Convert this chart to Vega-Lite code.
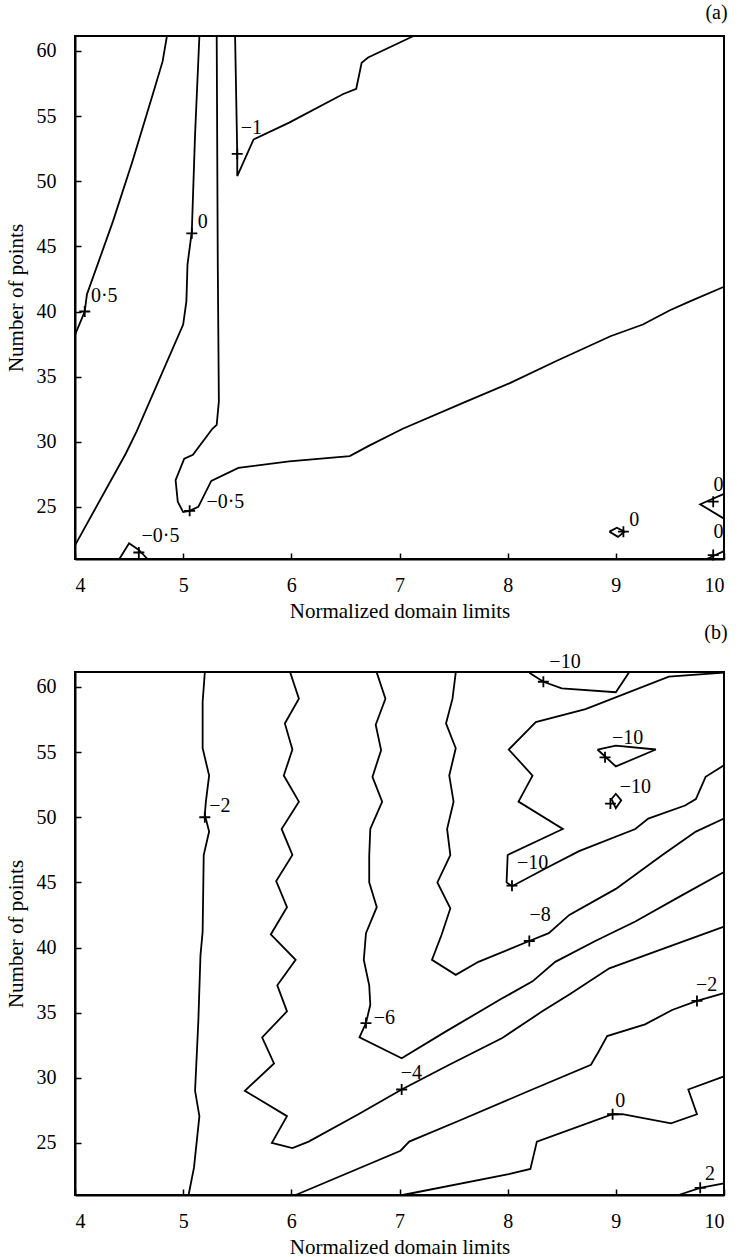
{
  "$schema": "https://vega.github.io/schema/vega-lite/v6.json",
  "background": "white",
  "padding": {"left": 4, "top": 2, "right": 4, "bottom": 2},
  "spacing": 0,
  "config": {
    "font": "Liberation Serif",
    "view": {"stroke": "black", "strokeWidth": 2},
    "axis": {
      "grid": false,
      "domainColor": "black", "domainWidth": 2,
      "tickColor": "black", "tickWidth": 1.5, "tickSize": -6,
      "labelColor": "black", "labelFont": "Liberation Serif", "labelFontSize": 20,
      "titleColor": "black", "titleFont": "Liberation Serif", "titleFontSize": 21, "titleFontWeight": "normal"
    },
    "axisX": {"labelPadding": 22, "titlePadding": 5},
    "axisY": {"labelPadding": 25, "titlePadding": 10},
    "title": {"font": "Liberation Serif", "fontSize": 20, "fontWeight": "normal", "color": "black", "anchor": "end", "offset": 9}
  },
  "datasets": {
    "a_lines": [
      {"c": "a1", "o": 1, "x": 4.85, "y": 61.15}, {"c": "a1", "o": 2, "x": 4.81, "y": 59.2}, {"c": "a1", "o": 3, "x": 4.72, "y": 56.7}, {"c": "a1", "o": 4, "x": 4.53, "y": 51.5}, {"c": "a1", "o": 5, "x": 4.35, "y": 46.9}, {"c": "a1", "o": 6, "x": 4.11, "y": 41.3}, {"c": "a1", "o": 7, "x": 4.09, "y": 40.0}, {"c": "a1", "o": 8, "x": 4.0, "y": 38.2},
      {"c": "a2", "o": 1, "x": 5.15, "y": 61.15}, {"c": "a2", "o": 2, "x": 5.11, "y": 53.6}, {"c": "a2", "o": 3, "x": 5.08, "y": 46.15}, {"c": "a2", "o": 4, "x": 5.04, "y": 43.6}, {"c": "a2", "o": 5, "x": 5.03, "y": 40.8}, {"c": "a2", "o": 6, "x": 5.0, "y": 39.0}, {"c": "a2", "o": 7, "x": 4.57, "y": 30.8}, {"c": "a2", "o": 8, "x": 4.47, "y": 29.1}, {"c": "a2", "o": 9, "x": 4.0, "y": 22.05},
      {"c": "a3", "o": 1, "x": 5.31, "y": 61.15}, {"c": "a3", "o": 2, "x": 5.32, "y": 43.6}, {"c": "a3", "o": 3, "x": 5.33, "y": 33.1}, {"c": "a3", "o": 4, "x": 5.31, "y": 31.3}, {"c": "a3", "o": 5, "x": 5.27, "y": 31.0}, {"c": "a3", "o": 6, "x": 5.09, "y": 29.0}, {"c": "a3", "o": 7, "x": 5.01, "y": 28.7}, {"c": "a3", "o": 8, "x": 4.93, "y": 27.05}, {"c": "a3", "o": 9, "x": 4.95, "y": 25.4}, {"c": "a3", "o": 10, "x": 5.0, "y": 24.6}, {"c": "a3", "o": 11, "x": 5.06, "y": 24.7}, {"c": "a3", "o": 12, "x": 5.14, "y": 25.0}, {"c": "a3", "o": 13, "x": 5.26, "y": 27.0}, {"c": "a3", "o": 14, "x": 5.51, "y": 28.0}, {"c": "a3", "o": 15, "x": 5.98, "y": 28.5}, {"c": "a3", "o": 16, "x": 6.54, "y": 28.9}, {"c": "a3", "o": 17, "x": 6.72, "y": 29.7}, {"c": "a3", "o": 18, "x": 7.03, "y": 31.0}, {"c": "a3", "o": 19, "x": 7.62, "y": 33.1}, {"c": "a3", "o": 20, "x": 8.02, "y": 34.5}, {"c": "a3", "o": 21, "x": 8.45, "y": 36.2}, {"c": "a3", "o": 22, "x": 8.95, "y": 38.1}, {"c": "a3", "o": 23, "x": 9.25, "y": 39.0}, {"c": "a3", "o": 24, "x": 9.5, "y": 40.1}, {"c": "a3", "o": 25, "x": 9.69, "y": 40.8}, {"c": "a3", "o": 26, "x": 10.0, "y": 41.9},
      {"c": "a4", "o": 1, "x": 5.48, "y": 61.15}, {"c": "a4", "o": 2, "x": 5.5, "y": 52.1}, {"c": "a4", "o": 3, "x": 5.5, "y": 50.4}, {"c": "a4", "o": 4, "x": 5.65, "y": 53.2}, {"c": "a4", "o": 5, "x": 5.98, "y": 54.5}, {"c": "a4", "o": 6, "x": 6.48, "y": 56.7}, {"c": "a4", "o": 7, "x": 6.6, "y": 57.1}, {"c": "a4", "o": 8, "x": 6.65, "y": 59.1}, {"c": "a4", "o": 9, "x": 6.71, "y": 59.5}, {"c": "a4", "o": 10, "x": 7.13, "y": 61.15},
      {"c": "a5", "o": 1, "x": 4.41, "y": 21.0}, {"c": "a5", "o": 2, "x": 4.5, "y": 22.2}, {"c": "a5", "o": 3, "x": 4.59, "y": 21.7}, {"c": "a5", "o": 4, "x": 4.67, "y": 21.0},
      {"c": "a6", "o": 1, "x": 8.94, "y": 23.1}, {"c": "a6", "o": 2, "x": 9.01, "y": 23.4}, {"c": "a6", "o": 3, "x": 9.08, "y": 23.1}, {"c": "a6", "o": 4, "x": 9.02, "y": 22.7}, {"c": "a6", "o": 5, "x": 8.94, "y": 23.1},
      {"c": "a7", "o": 1, "x": 10.0, "y": 26.0}, {"c": "a7", "o": 2, "x": 9.78, "y": 25.2}, {"c": "a7", "o": 3, "x": 10.0, "y": 24.1},
      {"c": "a8", "o": 1, "x": 9.84, "y": 21.0}, {"c": "a8", "o": 2, "x": 10.0, "y": 21.6}
    ],
    "a_marks": [
      {"x": 4.09, "y": 40.0}, {"x": 5.08, "y": 46.0}, {"x": 5.5, "y": 52.1}, {"x": 5.06, "y": 24.7}, {"x": 4.59, "y": 21.5}, {"x": 9.07, "y": 23.1}, {"x": 9.9, "y": 25.4}, {"x": 9.9, "y": 21.3}
    ],
    "a_labels": [
      {"t": "0·5", "x": 4.27, "y": 41.2}, {"t": "0", "x": 5.18, "y": 46.85}, {"t": "−1", "x": 5.63, "y": 54.1}, {"t": "−0·5", "x": 5.39, "y": 25.4}, {"t": "−0·5", "x": 4.79, "y": 22.8}, {"t": "0", "x": 9.17, "y": 24.0}, {"t": "0", "x": 9.95, "y": 26.7}, {"t": "0", "x": 9.95, "y": 23.1}
    ],
    "b_lines": [
      {"c": "b1", "o": 1, "x": 5.2, "y": 61.1}, {"c": "b1", "o": 2, "x": 5.18, "y": 58.85}, {"c": "b1", "o": 3, "x": 5.18, "y": 55.3}, {"c": "b1", "o": 4, "x": 5.24, "y": 53.2}, {"c": "b1", "o": 5, "x": 5.21, "y": 51.2}, {"c": "b1", "o": 6, "x": 5.2, "y": 50.2}, {"c": "b1", "o": 7, "x": 5.24, "y": 48.9}, {"c": "b1", "o": 8, "x": 5.19, "y": 47.1}, {"c": "b1", "o": 9, "x": 5.18, "y": 41.2}, {"c": "b1", "o": 10, "x": 5.16, "y": 39.4}, {"c": "b1", "o": 11, "x": 5.14, "y": 34.3}, {"c": "b1", "o": 12, "x": 5.11, "y": 29.0}, {"c": "b1", "o": 13, "x": 5.15, "y": 27.05}, {"c": "b1", "o": 14, "x": 5.1, "y": 23.1}, {"c": "b1", "o": 15, "x": 5.05, "y": 21.0},
      {"c": "b2", "o": 1, "x": 5.99, "y": 61.1}, {"c": "b2", "o": 2, "x": 6.07, "y": 59.1}, {"c": "b2", "o": 3, "x": 5.94, "y": 57.2}, {"c": "b2", "o": 4, "x": 6.01, "y": 55.2}, {"c": "b2", "o": 5, "x": 5.93, "y": 53.2}, {"c": "b2", "o": 6, "x": 6.07, "y": 51.2}, {"c": "b2", "o": 7, "x": 5.91, "y": 49.1}, {"c": "b2", "o": 8, "x": 6.01, "y": 47.1}, {"c": "b2", "o": 9, "x": 5.86, "y": 45.1}, {"c": "b2", "o": 10, "x": 5.96, "y": 43.1}, {"c": "b2", "o": 11, "x": 5.81, "y": 41.0}, {"c": "b2", "o": 12, "x": 6.04, "y": 39.05}, {"c": "b2", "o": 13, "x": 5.87, "y": 37.1}, {"c": "b2", "o": 14, "x": 5.96, "y": 35.1}, {"c": "b2", "o": 15, "x": 5.73, "y": 33.1}, {"c": "b2", "o": 16, "x": 5.84, "y": 31.1}, {"c": "b2", "o": 17, "x": 5.57, "y": 29.0}, {"c": "b2", "o": 18, "x": 5.96, "y": 27.05}, {"c": "b2", "o": 19, "x": 5.82, "y": 25.0}, {"c": "b2", "o": 20, "x": 6.01, "y": 24.6}, {"c": "b2", "o": 21, "x": 6.16, "y": 25.1}, {"c": "b2", "o": 22, "x": 6.62, "y": 27.2}, {"c": "b2", "o": 23, "x": 7.02, "y": 29.1}, {"c": "b2", "o": 24, "x": 7.46, "y": 31.0}, {"c": "b2", "o": 25, "x": 7.95, "y": 33.05}, {"c": "b2", "o": 26, "x": 8.32, "y": 35.1}, {"c": "b2", "o": 27, "x": 8.57, "y": 36.4}, {"c": "b2", "o": 28, "x": 8.94, "y": 38.4}, {"c": "b2", "o": 29, "x": 9.37, "y": 39.7}, {"c": "b2", "o": 30, "x": 10.0, "y": 41.6},
      {"c": "b3", "o": 1, "x": 6.79, "y": 61.1}, {"c": "b3", "o": 2, "x": 6.87, "y": 59.1}, {"c": "b3", "o": 3, "x": 6.78, "y": 57.1}, {"c": "b3", "o": 4, "x": 6.83, "y": 55.15}, {"c": "b3", "o": 5, "x": 6.75, "y": 53.1}, {"c": "b3", "o": 6, "x": 6.84, "y": 51.2}, {"c": "b3", "o": 7, "x": 6.73, "y": 49.1}, {"c": "b3", "o": 8, "x": 6.72, "y": 47.0}, {"c": "b3", "o": 9, "x": 6.72, "y": 45.0}, {"c": "b3", "o": 10, "x": 6.79, "y": 43.1}, {"c": "b3", "o": 11, "x": 6.69, "y": 41.1}, {"c": "b3", "o": 12, "x": 6.67, "y": 39.05}, {"c": "b3", "o": 13, "x": 6.72, "y": 37.1}, {"c": "b3", "o": 14, "x": 6.73, "y": 35.6}, {"c": "b3", "o": 15, "x": 6.69, "y": 34.2}, {"c": "b3", "o": 16, "x": 6.63, "y": 33.1}, {"c": "b3", "o": 17, "x": 7.02, "y": 31.5}, {"c": "b3", "o": 18, "x": 7.43, "y": 33.56}, {"c": "b3", "o": 19, "x": 7.95, "y": 36.1}, {"c": "b3", "o": 20, "x": 8.23, "y": 37.4}, {"c": "b3", "o": 21, "x": 8.44, "y": 38.9}, {"c": "b3", "o": 22, "x": 8.81, "y": 40.5}, {"c": "b3", "o": 23, "x": 9.18, "y": 42.0}, {"c": "b3", "o": 24, "x": 9.61, "y": 44.0}, {"c": "b3", "o": 25, "x": 10.0, "y": 45.8},
      {"c": "b4", "o": 1, "x": 7.52, "y": 61.1}, {"c": "b4", "o": 2, "x": 7.49, "y": 59.1}, {"c": "b4", "o": 3, "x": 7.43, "y": 57.2}, {"c": "b4", "o": 4, "x": 7.52, "y": 55.3}, {"c": "b4", "o": 5, "x": 7.46, "y": 53.2}, {"c": "b4", "o": 6, "x": 7.5, "y": 51.2}, {"c": "b4", "o": 7, "x": 7.44, "y": 49.1}, {"c": "b4", "o": 8, "x": 7.47, "y": 47.1}, {"c": "b4", "o": 9, "x": 7.35, "y": 45.0}, {"c": "b4", "o": 10, "x": 7.47, "y": 43.0}, {"c": "b4", "o": 11, "x": 7.39, "y": 41.0}, {"c": "b4", "o": 12, "x": 7.3, "y": 39.05}, {"c": "b4", "o": 13, "x": 7.52, "y": 37.9}, {"c": "b4", "o": 14, "x": 7.73, "y": 38.9}, {"c": "b4", "o": 15, "x": 8.2, "y": 40.5}, {"c": "b4", "o": 16, "x": 8.38, "y": 41.1}, {"c": "b4", "o": 17, "x": 8.57, "y": 42.5}, {"c": "b4", "o": 18, "x": 9.0, "y": 44.5}, {"c": "b4", "o": 19, "x": 9.43, "y": 47.1}, {"c": "b4", "o": 20, "x": 9.74, "y": 48.9}, {"c": "b4", "o": 21, "x": 10.0, "y": 49.9},
      {"c": "b5", "o": 1, "x": 10.0, "y": 61.1}, {"c": "b5", "o": 2, "x": 9.49, "y": 60.8}, {"c": "b5", "o": 3, "x": 8.72, "y": 58.3}, {"c": "b5", "o": 4, "x": 8.26, "y": 57.3}, {"c": "b5", "o": 5, "x": 8.01, "y": 55.2}, {"c": "b5", "o": 6, "x": 8.23, "y": 53.2}, {"c": "b5", "o": 7, "x": 8.1, "y": 51.2}, {"c": "b5", "o": 8, "x": 8.51, "y": 49.1}, {"c": "b5", "o": 9, "x": 8.0, "y": 47.1}, {"c": "b5", "o": 10, "x": 7.99, "y": 45.0}, {"c": "b5", "o": 11, "x": 8.04, "y": 44.7}, {"c": "b5", "o": 12, "x": 8.38, "y": 46.2}, {"c": "b5", "o": 13, "x": 8.66, "y": 47.4}, {"c": "b5", "o": 14, "x": 9.18, "y": 49.1}, {"c": "b5", "o": 15, "x": 9.3, "y": 49.9}, {"c": "b5", "o": 16, "x": 9.64, "y": 50.9}, {"c": "b5", "o": 17, "x": 9.74, "y": 51.4}, {"c": "b5", "o": 18, "x": 9.83, "y": 53.1}, {"c": "b5", "o": 19, "x": 10.0, "y": 54.0},
      {"c": "b6", "o": 1, "x": 8.2, "y": 61.1}, {"c": "b6", "o": 2, "x": 8.33, "y": 60.4}, {"c": "b6", "o": 3, "x": 8.5, "y": 59.9}, {"c": "b6", "o": 4, "x": 9.0, "y": 59.6}, {"c": "b6", "o": 5, "x": 9.12, "y": 61.1},
      {"c": "b7", "o": 1, "x": 8.83, "y": 55.2}, {"c": "b7", "o": 2, "x": 9.0, "y": 55.5}, {"c": "b7", "o": 3, "x": 9.37, "y": 55.2}, {"c": "b7", "o": 4, "x": 9.0, "y": 53.9}, {"c": "b7", "o": 5, "x": 8.83, "y": 55.2},
      {"c": "b8", "o": 1, "x": 8.96, "y": 51.4}, {"c": "b8", "o": 2, "x": 9.0, "y": 51.8}, {"c": "b8", "o": 3, "x": 9.05, "y": 51.3}, {"c": "b8", "o": 4, "x": 9.0, "y": 50.7}, {"c": "b8", "o": 5, "x": 8.96, "y": 51.4},
      {"c": "b9", "o": 1, "x": 6.04, "y": 21.0}, {"c": "b9", "o": 2, "x": 7.01, "y": 24.4}, {"c": "b9", "o": 3, "x": 7.09, "y": 25.1}, {"c": "b9", "o": 4, "x": 7.55, "y": 26.7}, {"c": "b9", "o": 5, "x": 8.2, "y": 29.0}, {"c": "b9", "o": 6, "x": 8.77, "y": 31.0}, {"c": "b9", "o": 7, "x": 8.84, "y": 32.0}, {"c": "b9", "o": 8, "x": 8.92, "y": 33.2}, {"c": "b9", "o": 9, "x": 9.27, "y": 34.1}, {"c": "b9", "o": 10, "x": 9.52, "y": 35.2}, {"c": "b9", "o": 11, "x": 9.75, "y": 35.9}, {"c": "b9", "o": 12, "x": 10.0, "y": 36.5},
      {"c": "b10", "o": 1, "x": 7.03, "y": 21.0}, {"c": "b10", "o": 2, "x": 8.01, "y": 22.6}, {"c": "b10", "o": 3, "x": 8.21, "y": 23.0}, {"c": "b10", "o": 4, "x": 8.27, "y": 25.1}, {"c": "b10", "o": 5, "x": 8.97, "y": 27.2}, {"c": "b10", "o": 6, "x": 9.06, "y": 27.2}, {"c": "b10", "o": 7, "x": 9.51, "y": 26.5}, {"c": "b10", "o": 8, "x": 9.75, "y": 27.2}, {"c": "b10", "o": 9, "x": 9.67, "y": 29.1}, {"c": "b10", "o": 10, "x": 10.0, "y": 30.1},
      {"c": "b11", "o": 1, "x": 9.58, "y": 21.0}, {"c": "b11", "o": 2, "x": 9.78, "y": 21.55}, {"c": "b11", "o": 3, "x": 10.0, "y": 21.9}
    ],
    "b_marks": [
      {"x": 5.2, "y": 50.0}, {"x": 8.33, "y": 60.4}, {"x": 8.9, "y": 54.6}, {"x": 8.95, "y": 51.05}, {"x": 8.04, "y": 44.75}, {"x": 8.2, "y": 40.5}, {"x": 6.69, "y": 34.2}, {"x": 7.02, "y": 29.1}, {"x": 9.75, "y": 35.9}, {"x": 8.97, "y": 27.2}, {"x": 9.78, "y": 21.55}
    ],
    "b_labels": [
      {"t": "−2", "x": 5.34, "y": 50.9}, {"t": "−10", "x": 8.53, "y": 61.9}, {"t": "−10", "x": 9.11, "y": 56.1}, {"t": "−10", "x": 9.18, "y": 52.3}, {"t": "−10", "x": 8.23, "y": 46.5}, {"t": "−8", "x": 8.3, "y": 42.5}, {"t": "−6", "x": 6.86, "y": 34.6}, {"t": "−4", "x": 7.11, "y": 30.4}, {"t": "−2", "x": 9.84, "y": 37.1}, {"t": "0", "x": 9.04, "y": 28.2}, {"t": "2", "x": 9.87, "y": 22.6}
    ]
  },
  "vconcat": [
    {
      "width": 649, "height": 523,
      "title": {"text": "(a)"},
      "encoding": {
        "x": {"field": "x", "type": "quantitative", "scale": {"domain": [4, 10], "nice": false, "zero": false}, "axis": {"title": "Normalized domain limits", "values": [4, 5, 6, 7, 8, 9, 10]}},
        "y": {"field": "y", "type": "quantitative", "scale": {"domain": [21, 61.15], "nice": false, "zero": false}, "axis": {"title": "Number of points", "values": [25, 30, 35, 40, 45, 50, 55, 60]}}
      },
      "layer": [
        {"data": {"name": "a_lines"}, "mark": {"type": "line", "color": "black", "strokeWidth": 1.8}, "encoding": {"detail": {"field": "c"}, "order": {"field": "o", "type": "quantitative"}}},
        {"data": {"name": "a_marks"}, "mark": {"type": "point", "shape": "M-1,0H1M0,-1V1", "size": 121, "filled": false, "stroke": "black", "strokeWidth": 1.8, "opacity": 1}},
        {"data": {"name": "a_labels"}, "mark": {"type": "text", "fontSize": 20, "color": "black", "align": "center", "baseline": "middle"}, "encoding": {"text": {"field": "t"}}}
      ]
    },
    {
      "width": 649, "height": 523,
      "title": {"text": "(b)"},
      "encoding": {
        "x": {"field": "x", "type": "quantitative", "scale": {"domain": [4, 10], "nice": false, "zero": false}, "axis": {"title": "Normalized domain limits", "values": [4, 5, 6, 7, 8, 9, 10]}},
        "y": {"field": "y", "type": "quantitative", "scale": {"domain": [21, 61.15], "nice": false, "zero": false}, "axis": {"title": "Number of points", "values": [25, 30, 35, 40, 45, 50, 55, 60]}}
      },
      "layer": [
        {"data": {"name": "b_lines"}, "mark": {"type": "line", "color": "black", "strokeWidth": 1.8}, "encoding": {"detail": {"field": "c"}, "order": {"field": "o", "type": "quantitative"}}},
        {"data": {"name": "b_marks"}, "mark": {"type": "point", "shape": "M-1,0H1M0,-1V1", "size": 121, "filled": false, "stroke": "black", "strokeWidth": 1.8, "opacity": 1}},
        {"data": {"name": "b_labels"}, "mark": {"type": "text", "fontSize": 20, "color": "black", "align": "center", "baseline": "middle"}, "encoding": {"text": {"field": "t"}}}
      ]
    }
  ]
}
